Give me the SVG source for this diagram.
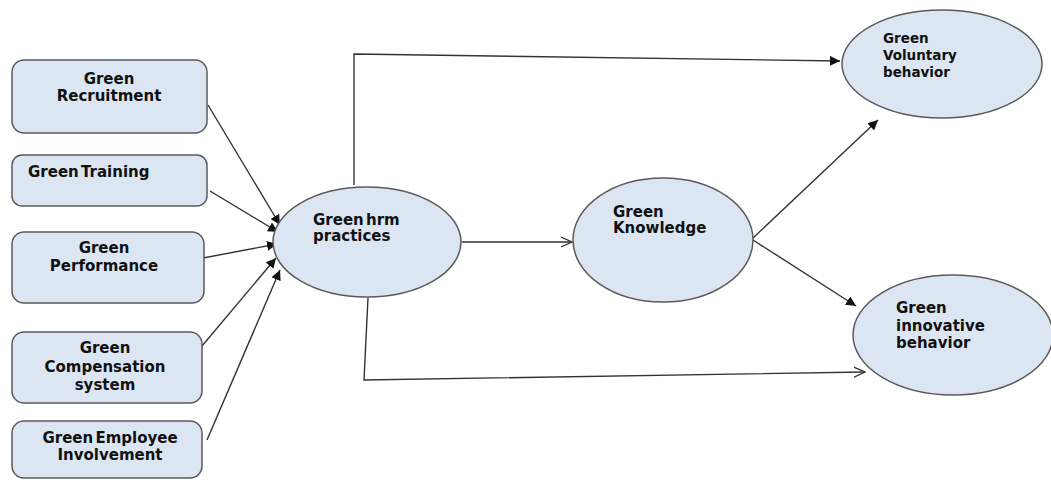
<svg xmlns="http://www.w3.org/2000/svg" width="1051" height="481" viewBox="0 0 1051 481">
<style>
.box{fill:#dce6f2;stroke:#5a5a5a;stroke-width:1.5}
.ell{fill:#dce6f2;stroke:#5a5a5a;stroke-width:1.5}
text{font-family:"DejaVu Sans","Liberation Sans",sans-serif;font-weight:bold;font-size:15px;fill:#111;word-spacing:-3px}
.c{text-anchor:middle}
.sm{font-size:13.5px}
.ln{fill:none;stroke:#333;stroke-width:1.4}
</style>
<defs>
<marker id="fill" viewBox="0 0 10 10" refX="10" refY="5" markerWidth="10" markerHeight="10" markerUnits="userSpaceOnUse" orient="auto">
<path d="M0,0 L10,5 L0,10 z" fill="#111"/>
</marker>
<marker id="open" viewBox="0 0 12 12" refX="11" refY="6" markerWidth="12" markerHeight="12" markerUnits="userSpaceOnUse" orient="auto">
<path d="M0,1 L11,6 L0,11" fill="none" stroke="#333" stroke-width="1.3"/>
</marker>
</defs>
<rect width="1051" height="481" fill="#fff"/>
<g id="connectors">
<line class="ln" x1="208" y1="105" x2="280" y2="225" marker-end="url(#fill)"/>
<line class="ln" x1="210" y1="191" x2="278" y2="232" marker-end="url(#fill)"/>
<line class="ln" x1="203" y1="258" x2="277" y2="244" marker-end="url(#fill)"/>
<line class="ln" x1="202" y1="346" x2="276" y2="258" marker-end="url(#fill)"/>
<line class="ln" x1="207" y1="440" x2="280" y2="270" marker-end="url(#fill)"/>
<polyline class="ln" points="354,185 354,54 840,61" marker-end="url(#fill)"/>
<polyline class="ln" points="368,298 364,380 865,372" marker-end="url(#open)"/>
<line class="ln" x1="462" y1="242" x2="572" y2="242" marker-end="url(#open)"/>
<line class="ln" x1="753" y1="238" x2="878" y2="120" marker-end="url(#fill)"/>
<line class="ln" x1="753" y1="240" x2="856" y2="306" marker-end="url(#fill)"/>
</g>
<g id="n-recruitment"><rect class="box" x="12" y="60" width="195" height="73" rx="12"/><text class="c" x="109" y="84">Green</text><text class="c" x="109" y="101">Recruitment</text></g>
<g id="n-training"><rect class="box" x="12" y="155" width="195" height="51" rx="10"/><text x="28" y="177">Green Training</text></g>
<g id="n-performance"><rect class="box" x="12" y="232" width="192" height="71" rx="12"/><text class="c" x="104" y="253">Green</text><text class="c" x="104" y="271">Performance</text></g>
<g id="n-compensation"><rect class="box" x="12" y="332" width="190" height="71" rx="12"/><text class="c" x="105" y="353">Green</text><text class="c" x="105" y="372">Compensation</text><text class="c" x="105" y="390">system</text></g>
<g id="n-involvement"><rect class="box" x="12" y="421" width="190" height="57" rx="12"/><text class="c" x="110" y="443">Green Employee</text><text class="c" x="110" y="460">Involvement</text></g>
<g id="n-hrm"><ellipse class="ell" cx="367" cy="242" rx="94" ry="55"/><text x="313" y="225">Green hrm</text><text x="313" y="241">practices</text></g>
<g id="n-knowledge"><ellipse class="ell" cx="663" cy="240" rx="90" ry="62"/><text x="613" y="217">Green</text><text x="613" y="233">Knowledge</text></g>
<g id="n-voluntary"><ellipse class="ell" cx="942" cy="64" rx="100" ry="54"/><text class="sm" x="883" y="43">Green</text><text class="sm" x="883" y="60">Voluntary</text><text class="sm" x="883" y="77">behavior</text></g>
<g id="n-innovative"><ellipse class="ell" cx="953" cy="335" rx="100" ry="60"/><text x="896" y="313">Green</text><text x="896" y="331">innovative</text><text x="896" y="348">behavior</text></g>
</svg>
